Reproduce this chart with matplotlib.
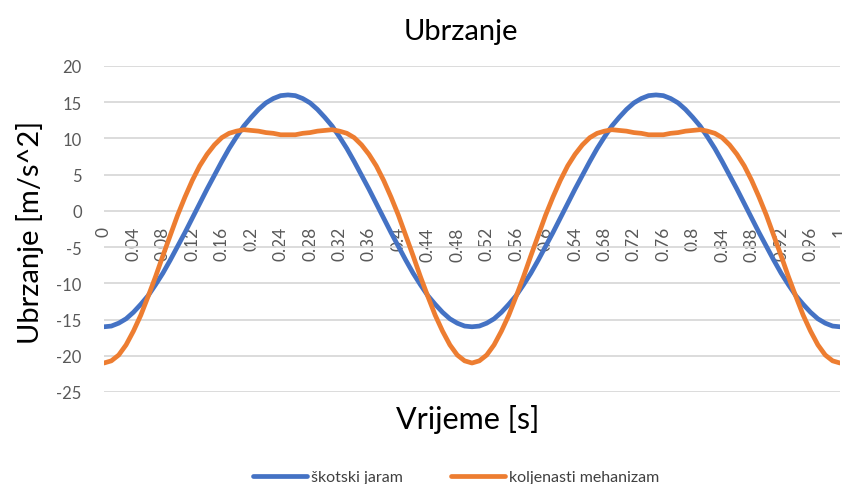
import matplotlib
matplotlib.use("Agg")
import matplotlib.pyplot as plt
from matplotlib.lines import Line2D

plt.rcParams['font.family'] = ['Lato', 'DejaVu Sans']
plt.rcParams['axes.unicode_minus'] = False

# vrijeme [s], korak 0.01
time_s = [round(i * 0.01, 2) for i in range(101)]

# škotski jaram [m/s^2]
scotch_yoke = [
    -16.0, -15.9, -15.5, -14.9, -14.0, -12.9, -11.7, -10.2, -8.6, -6.8, -4.9, -3.0, -1.0,
    1.0, 3.0, 4.9, 6.8, 8.6, 10.2, 11.7, 12.9, 14.0, 14.9, 15.5, 15.9, 16.0,
    15.9, 15.5, 14.9, 14.0, 12.9, 11.7, 10.2, 8.6, 6.8, 4.9, 3.0, 1.0,
    -1.0, -3.0, -4.9, -6.8, -8.6, -10.2, -11.7, -12.9, -14.0, -14.9, -15.5, -15.9, -16.0,
    -15.9, -15.5, -14.9, -14.0, -12.9, -11.7, -10.2, -8.6, -6.8, -4.9, -3.0, -1.0,
    1.0, 3.0, 4.9, 6.8, 8.6, 10.2, 11.7, 12.9, 14.0, 14.9, 15.5, 15.9, 16.0,
    15.9, 15.5, 14.9, 14.0, 12.9, 11.7, 10.2, 8.6, 6.8, 4.9, 3.0, 1.0,
    -1.0, -3.0, -4.9, -6.8, -8.6, -10.2, -11.7, -12.9, -14.0, -14.9, -15.5, -15.9, -16.0,
]

# koljenasti mehanizam [m/s^2]
crank = [
    -21.0, -20.7, -19.9, -18.5, -16.6, -14.4, -11.8, -9.1, -6.2, -3.4, -0.6,
    1.9, 4.2, 6.2, 7.8, 9.1, 10.1, 10.7, 11.0, 11.2, 11.1, 11.0, 10.8, 10.7, 10.5, 10.5,
    10.5, 10.7, 10.8, 11.0, 11.1, 11.2, 11.0, 10.7, 10.1, 9.1, 7.8, 6.2, 4.2, 1.9,
    -0.6, -3.4, -6.2, -9.1, -11.8, -14.4, -16.6, -18.5, -19.9, -20.7, -21.0,
    -20.7, -19.9, -18.5, -16.6, -14.4, -11.8, -9.1, -6.2, -3.4, -0.6,
    1.9, 4.2, 6.2, 7.8, 9.1, 10.1, 10.7, 11.0, 11.2, 11.1, 11.0, 10.8, 10.7, 10.5, 10.5,
    10.5, 10.7, 10.8, 11.0, 11.1, 11.2, 11.0, 10.7, 10.1, 9.1, 7.8, 6.2, 4.2, 1.9,
    -0.6, -3.4, -6.2, -9.1, -11.8, -14.4, -16.6, -18.5, -19.9, -20.7, -21.0,
]

x_ticks = [round(i * 0.04, 2) for i in range(26)]
x_tick_labels = ['0', '0.04', '0.08', '0.12', '0.16', '0.2', '0.24', '0.28', '0.32',
                 '0.36', '0.4', '0.44', '0.48', '0.52', '0.56', '0.6', '0.64', '0.68',
                 '0.72', '0.76', '0.8', '0.84', '0.88', '0.92', '0.96', '1']
y_ticks = [20, 15, 10, 5, 0, -5, -10, -15, -20, -25]

BLUE = '#4472C4'
ORANGE = '#ED7D31'
GRID = '#D9D9D9'
TICK = '#595959'

fig = plt.figure(figsize=(8.42, 4.85), dpi=100)
ax = fig.add_axes([0.1235, 0.1897, 0.8741, 0.6723])

ax.plot(time_s, scotch_yoke, color=BLUE, lw=3.4, solid_capstyle='round', zorder=3)
ax.plot(time_s, crank, color=ORANGE, lw=3.4, solid_capstyle='round', zorder=3)

ax.set_xlim(0, 1)
ax.set_ylim(-25, 20)
ax.set_yticks(y_ticks)
ax.yaxis.grid(True, color=GRID, lw=1.3)
ax.set_axisbelow(True)

for s in ax.spines.values():
    s.set_visible(False)
ax.spines['bottom'].set_position(('data', 0))

ax.set_xticks(x_ticks)
ax.set_xticklabels(x_tick_labels, rotation=90, va='top', ha='center')
ax.tick_params(axis='x', length=0, pad=11, labelsize=12.5, labelcolor=TICK)
ax.tick_params(axis='y', length=0, pad=16, labelsize=12, labelcolor=TICK)

fig.text(0.547, 0.935, 'Ubrzanje', ha='center', va='center', fontsize=21)
fig.text(0.555, 0.135, 'Vrijeme [s]', ha='center', va='center', fontsize=22)
fig.text(0.036, 0.52, 'Ubrzanje [m/s^2]', ha='center', va='center', rotation=90, fontsize=21)

handles = [Line2D([], [], color=BLUE, lw=3.4, solid_capstyle='round'),
           Line2D([], [], color=ORANGE, lw=3.4, solid_capstyle='round')]
fig.legend(handles, ['škotski jaram', 'koljenasti mehanizam'], loc='lower center',
           bbox_to_anchor=(0.542, -0.03), ncol=2, frameon=False, fontsize=11.5,
           handlelength=3.4, columnspacing=3.0, handletextpad=0.25, labelcolor='#404040')

fig.savefig('out.png', dpi=100)
